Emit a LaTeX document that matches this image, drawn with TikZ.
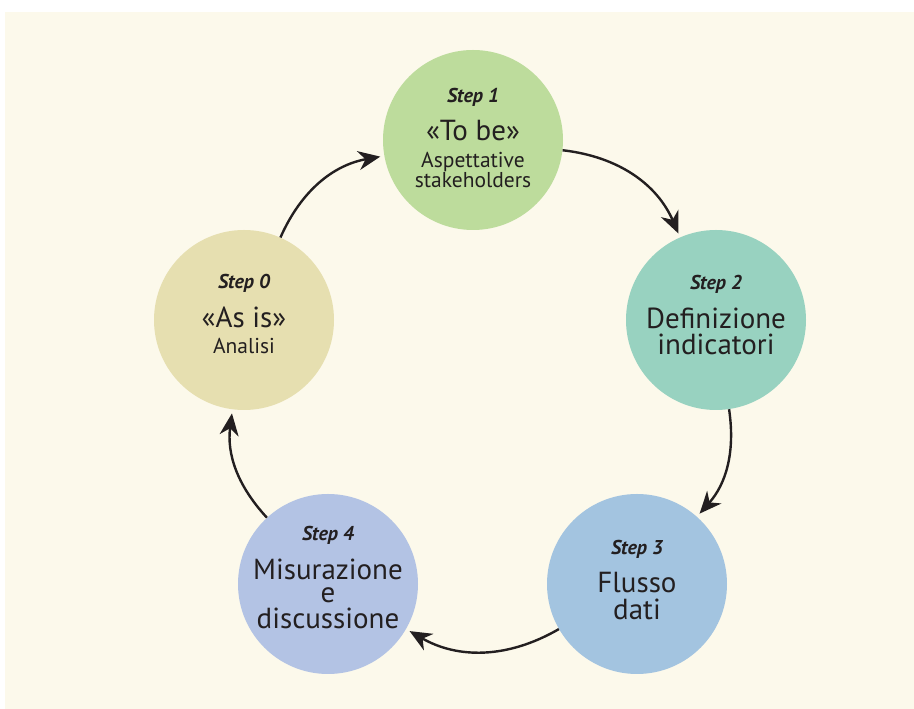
\documentclass[tikz,border=0pt]{standalone}
\usepackage{fontspec}
\setmainfont{PT Sans}
\usetikzlibrary{arrows.meta}

\definecolor{bgcream}{HTML}{FCF9EB}
\definecolor{inkdark}{HTML}{231F20}
\definecolor{stepzero}{HTML}{E6DFB0}
\definecolor{stepone}{HTML}{BDDC9C}
\definecolor{steptwo}{HTML}{98D2C0}
\definecolor{stepthree}{HTML}{A3C4E0}
\definecolor{stepfour}{HTML}{B3C3E4}

\newcommand{\stepno}[1]{{\fontsize{20}{20}\selectfont\bfseries\itshape Step #1}}
\newcommand{\subline}[1]{{\fontsize{21.5}{21.5}\selectfont #1}}

\begin{document}
\begin{tikzpicture}[x = 1pt, y = 1pt,
	phase/.style = {circle, minimum size = 180pt, inner sep = 0pt},
	phasetext/.style = {align = center, text = inkdark, inner sep = 0pt, font = \fontsize{29}{38.5}\selectfont},
	flowarrow/.style = {-{Stealth[length = 22pt, width = 19pt, inset = 7pt]}, line width = 2.4pt, draw = inkdark, shorten > = 4pt}]

\useasboundingbox (0,0) rectangle (914, 709);
\fill[bgcream] (5,0) rectangle (914, 697);

\node[phase, fill = stepzero, label = {[phasetext, yshift = 6pt]center:\stepno{0}\\ «As is»\\[-12pt] \subline{Analisi}}] (s0) at (244, 389) {};
\node[phase, fill = stepone, label = {[phasetext, yshift = 2pt]center:\stepno{1}\\ «To be»\\[-11.2pt] \subline{Aspettative}\\[-18.5pt] \subline{stakeholders}}] (s1) at (473, 569) {};
\node[phase, fill = steptwo, label = {[phasetext, yshift = 5pt]center:\stepno{2}\\ Definizione\\[-12.5pt] indicatori}] (s2) at (716, 389) {};
\node[phase, fill = stepthree, label = {[phasetext, yshift = 4pt]center:\stepno{3}\\ Flusso\\[-12pt] dati}] (s3) at (637, 125) {};
\node[phase, fill = stepfour, label = {[phasetext, yshift = 6pt]center:\stepno{4}\\ Misurazione\\[-15pt] e\\[-12.5pt] discussione}] (s4) at (328, 125) {};

\foreach \a/\b/\bend in {s0/s1/28, s1/s2/30, s2/s3/25, s3/s4/30, s4/s0/25} {
	\draw[flowarrow] (\a) to[bend left = \bend] (\b);
}

\end{tikzpicture}
\end{document}
